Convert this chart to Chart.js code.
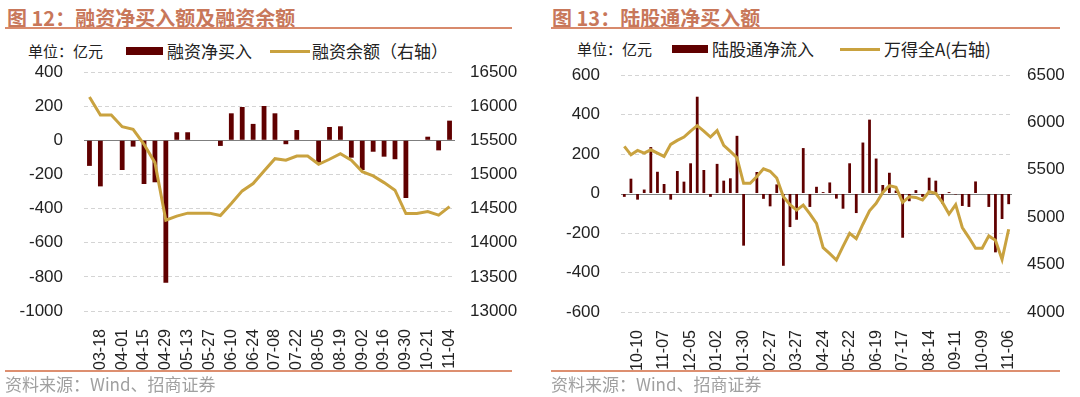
<!DOCTYPE html>
<html>
<head>
<meta charset="utf-8">
<script src="https://cdn.jsdelivr.net/npm/chart.js@4.4.1/dist/chart.umd.min.js"></script>
<style>
  body { margin: 0; background: #fff; }
  #page { position: relative; width: 1080px; height: 397px; overflow: hidden;
    font-family: "Noto Sans CJK SC", "Liberation Sans", sans-serif; }
  .title { position: absolute; top: 3px; font-size: 20px; font-weight: bold; color: #c8775a; white-space: nowrap; }
  .rule { position: absolute; height: 2px; background: #d88a6c; }
  .foot-rule { position: absolute; height: 1.5px; background: #dd8f70; }
  .unit { position: absolute; font-size: 15px; color: #222; white-space: nowrap; line-height: 20px; }
  .lg-text { position: absolute; font-size: 17px; color: #222; white-space: nowrap; line-height: 20px; }
  .swatch-bar { position: absolute; height: 8px; background: #600000; }
  .swatch-line { position: absolute; height: 3px; background: #c9a23f; }
  .source { position: absolute; top: 373px; font-size: 17px; color: #a0a0a0; white-space: nowrap; line-height: 22px; }
  canvas { position: absolute; top: 50px; }
</style>
</head>
<body>
<div id="page">
  <div class="title" style="left:7px">图 12：融资净买入额及融资余额</div>
  <div class="rule" style="left:5px;width:507px;top:27px"></div>
  <div class="unit" style="left:28px;top:41px">单位：亿元</div>
  <div class="swatch-bar" style="left:126px;width:37px;top:47px"></div>
  <div class="lg-text" style="left:167px;top:41px">融资净买入</div>
  <div class="swatch-line" style="left:270px;width:40px;top:50px"></div>
  <div class="lg-text" style="left:312px;top:41px">融资余额（右轴）</div>

  <div class="title" style="left:552px">图 13：陆股通净买入额</div>
  <div class="rule" style="left:551px;width:509px;top:27px"></div>
  <div class="unit" style="left:577px;top:39px">单位：亿元</div>
  <div class="swatch-bar" style="left:672px;width:36px;top:45px"></div>
  <div class="lg-text" style="left:712px;top:39px">陆股通净流入</div>
  <div class="swatch-line" style="left:840px;width:40px;top:48px"></div>
  <div class="lg-text" style="left:884px;top:39px">万得全A(右轴)</div>

  <canvas id="marginChart" width="540" height="322" style="left:0"></canvas>
  <canvas id="connectChart" width="540" height="322" style="left:540px"></canvas>

  <div class="foot-rule" style="left:5px;width:507px;top:370px"></div>
  <div class="source" style="left:5px">资料来源：Wind、招商证券</div>
  <div class="foot-rule" style="left:551px;width:509px;top:370px"></div>
  <div class="source" style="left:551px">资料来源：Wind、招商证券</div>
</div>

<script>
// 图12 融资 (weekly)
const marginDates = [
  "03-11", "03-18", "03-25", "04-01", "04-08", "04-15", "04-22", "04-29",
  "05-06", "05-13", "05-20", "05-27", "06-03", "06-10", "06-17", "06-24",
  "07-01", "07-08", "07-15", "07-22", "07-29", "08-05", "08-12", "08-19",
  "08-26", "09-02", "09-09", "09-16", "09-23", "09-30", "10-14", "10-21",
  "10-28", "11-04",
];
const marginNetBuy = [
  -150, -270, 3, -174, -37, -256, -246, -835, 47, 47, 0, 0, -33, 158, 195, 96,
  201, 158, -23, 60, 0, -131, 78, 82, -102, -174, -67, -96, -111, -338, 0, 21,
  -59, 115,
];
const marginBalance = [
  16133, 15870, 15870, 15699, 15661, 15442, 15173, 14330, 14389, 14433, 14433,
  14433, 14398, 14573, 14759, 14866, 15050, 15231, 15208, 15270, 15270, 15149,
  15222, 15304, 15208, 15041, 14978, 14880, 14769, 14427, 14427, 14456, 14403,
  14529,
];
const marginLeftTicks = { min: -1000, max: 400, step: 200 };
const marginRightTicks = { min: 13000, max: 16500, step: 500 };

// 图13 陆股通 (weekly)
const connectDates = [
  "09-26", "10-03", "10-10", "10-17", "10-24", "10-31", "11-07", "11-14",
  "11-21", "11-28", "12-05", "12-12", "12-19", "12-26", "01-02", "01-09",
  "01-16", "01-23", "01-30", "02-06", "02-13", "02-20", "02-27", "03-06",
  "03-13", "03-20", "03-27", "04-03", "04-10", "04-17", "04-24", "05-01",
  "05-08", "05-15", "05-22", "05-29", "06-05", "06-12", "06-19", "06-26",
  "07-03", "07-10", "07-17", "07-24", "07-31", "08-07", "08-14", "08-21",
  "08-28", "09-04", "09-11", "09-18", "09-25", "10-02", "10-09", "10-16",
  "10-23", "10-30", "11-06",
];
const connectNetBuy = [
  -17, 75, -31, 20, 235, 110, 48, -31, 114, 60, 153, 490, 119, -17, 150, 65,
  77, 292, -264, 0, 109, -27, -65, 46, -366, -170, -133, 230, -68, 34, 7, 56,
  -26, -77, 153, -99, 258, 374, 177, 43, 105, 15, -224, -39, 17, -17, 80, 65,
  -51, 7, -5, -63, -68, 61, 0, -68, -298, -129, -54,
];
const windAIndex = [
  5747, 5658, 5704, 5676, 5711, 5676, 5641, 5768, 5810, 5846, 5909, 5966, 5909,
  5846, 5913, 5757, 5694, 5627, 5358, 5358, 5429, 5510, 5485, 5414, 5216, 5132,
  5075, 5128, 5035, 4934, 4679, 4615, 4548, 4693, 4831, 4774, 4926, 5068, 5146,
  5262, 5333, 5315, 5156, 5216, 5209, 5181, 5269, 5252, 5156, 5033, 5132, 4891,
  4785, 4672, 4672, 4803, 4757, 4555, 4873,
];
const connectLeftTicks = { min: -600, max: 600, step: 200 };
const connectRightTicks = { min: 4000, max: 6500, step: 500 };

const BAR_COLOR = "#600000";
const LINE_COLOR = "#c9a23f";
const TICK_FONT = { family: "'Liberation Sans', Arial, sans-serif", size: 17 };
const DATE_FONT = { family: "'Liberation Sans', Arial, sans-serif", size: 16 };

// solid line at 0 on the left axis, dashed grid elsewhere
const zeroLine = {
  id: "zeroLine",
  beforeDatasetsDraw(chart) {
    const y = chart.scales.y.getPixelForValue(0);
    const { left, right } = chart.chartArea;
    const ctx = chart.ctx;
    ctx.save();
    ctx.strokeStyle = "#7f7f7f";
    ctx.lineWidth = 1;
    ctx.beginPath();
    ctx.moveTo(left, Math.round(y) + 0.5);
    ctx.lineTo(right, Math.round(y) + 0.5);
    ctx.stroke();
    ctx.restore();
  },
};

// fixed axis width, and no extra top/bottom padding from the labels
function fixWidth(w) {
  return (s) => {
    s.width = w;
    s.paddingTop = 0;
    s.paddingBottom = 0;
  };
}

function makeChart(id, opts) {
  const ctx = document.getElementById(id).getContext("2d");
  return new Chart(ctx, {
    type: "bar",
    data: {
      labels: opts.labels,
      datasets: [
        {
          type: "line",
          data: opts.lineData,
          yAxisID: "y1",
          borderColor: LINE_COLOR,
          borderWidth: 3,
          pointRadius: 0,
          tension: 0,
          order: 0,
        },
        {
          type: "bar",
          data: opts.barData,
          yAxisID: "y",
          backgroundColor: BAR_COLOR,
          barPercentage: opts.barPct,
          categoryPercentage: 1,
          order: 1,
        },
      ],
    },
    options: {
      responsive: false,
      animation: false,
      layout: { padding: { top: opts.padTop, left: 0, right: 0, bottom: 0 } },
      plugins: { legend: { display: false }, tooltip: { enabled: false } },
      scales: {
        x: {
          grid: { display: false },
          border: { display: false },
          ticks: {
            autoSkip: false,
            minRotation: 90,
            maxRotation: 90,
            padding: 10,
            color: "#222",
            font: DATE_FONT,
            callback: (v, i) => (opts.showLabel(i) ? opts.labels[i] : ""),
          },
          afterFit: (s) => { s.height = opts.xHeight; },
        },
        y: {
          position: "left",
          min: opts.left.min,
          max: opts.left.max,
          grid: {
            drawTicks: false,
            color: (c) => (c.tick.value === 0 ? "rgba(0,0,0,0)" : "#d4d4d4"),
          },
          border: { display: false, dash: [4, 3] },
          ticks: {
            stepSize: opts.left.step,
            padding: 21,
            color: "#222",
            font: TICK_FONT,
            callback: (v) => String(v),
          },
          afterFit: fixWidth(opts.leftWidth),
        },
        y1: {
          position: "right",
          min: opts.right.min,
          max: opts.right.max,
          grid: { drawOnChartArea: false, drawTicks: false },
          border: { display: false },
          ticks: {
            stepSize: opts.right.step,
            padding: 15,
            color: "#222",
            font: TICK_FONT,
            callback: (v) => String(v),
          },
          afterFit: fixWidth(opts.rightWidth),
        },
      },
    },
    plugins: [zeroLine],
  });
}

makeChart("marginChart", {
  labels: marginDates,
  barData: marginNetBuy,
  lineData: marginBalance,
  left: marginLeftTicks,
  right: marginRightTicks,
  barPct: 0.44,
  padTop: 22,
  leftWidth: 84,
  rightWidth: 85,
  xHeight: 61,
  showLabel: (i) => i % 2 === 1,
});

makeChart("connectChart", {
  labels: connectDates,
  barData: connectNetBuy,
  lineData: windAIndex,
  left: connectLeftTicks,
  right: connectRightTicks,
  barPct: 0.42,
  padTop: 25,
  leftWidth: 81,
  rightWidth: 68,
  xHeight: 60,
  showLabel: (i) => i % 4 === 2,
});
</script>
</body>
</html>
